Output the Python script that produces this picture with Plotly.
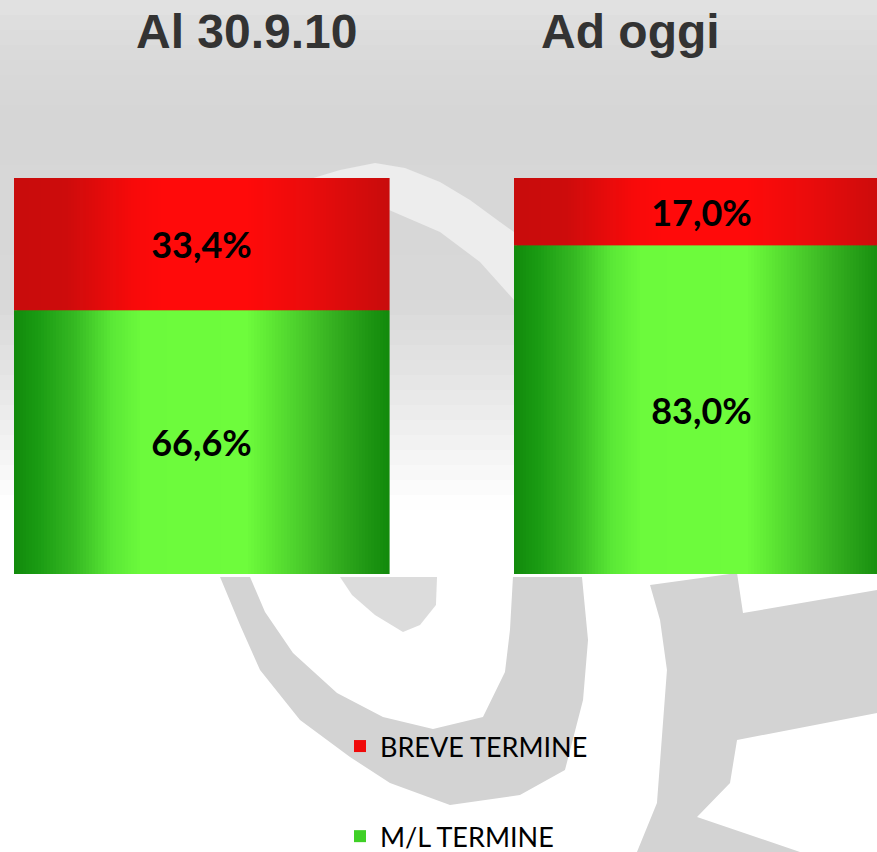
import plotly.graph_objects as go

# ---------------- data ----------------
categories = ["Al 30.9.10", "Ad oggi"]
breve_values = [33.4, 17.0]          # BREVE TERMINE share (%)
ml_values = [66.6, 83.0]             # M/L TERMINE share (%)
breve_text = ["33,4%", "17,0%"]
ml_text = ["66,6%", "83,0%"]
legend_names = ["BREVE TERMINE", "M/L TERMINE"]

# ---------------- styling helpers ----------------
W, H = 877, 852
BAR_W = 0.75
N_STRIPS = 125

green_stops = [(0.00, "#128a0c"), (0.06, "#199a12"), (0.16, "#35b822"), (0.26, "#5ae836"),
               (0.34, "#6cfa3c"), (0.62, "#6efc3c"), (0.72, "#55dc30"), (0.85, "#36b020"),
               (0.95, "#1c9412"), (1.00, "#128a0c")]
red_stops = [(0.00, "#c80c0c"), (0.14, "#cd0c0c"), (0.32, "#f80a0a"), (0.40, "#ff0a0a"),
             (0.62, "#ff0a0a"), (0.80, "#e80c0c"), (1.00, "#c80c0c")]


def h2r(h):
    h = h.lstrip("#")
    return tuple(int(h[i:i + 2], 16) for i in (0, 2, 4))


def interp(stops, t):
    for (t0, c0), (t1, c1) in zip(stops[:-1], stops[1:]):
        if t0 <= t <= t1:
            f = 0 if t1 == t0 else (t - t0) / (t1 - t0)
            a, b = h2r(c0), h2r(c1)
            return "rgb(%d,%d,%d)" % tuple(round(a[k] + (b[k] - a[k]) * f) for k in range(3))
    return stops[-1][1]


def px_path(points):
    return "M " + " L ".join("%.4f,%.4f" % (x / W, 1 - y / H) for x, y in points) + " Z"


fig = go.Figure()

# legend-carrying base bars (covered by the gradient strips)
fig.add_bar(x=categories, y=breve_values, base=ml_values, name=legend_names[0],
            marker=dict(color="#f00a0a", line=dict(width=0)), width=BAR_W,
            legendgroup="breve", hoverinfo="skip")
fig.add_bar(x=categories, y=ml_values, base=0, name=legend_names[1],
            marker=dict(color="#3fd026", line=dict(width=0)), width=BAR_W,
            legendgroup="ml", hoverinfo="skip")

# gradient strips
step = BAR_W / N_STRIPS
for i in range(N_STRIPS):
    t = (i + 0.5) / N_STRIPS
    off = -BAR_W / 2 + i * step
    w = step * (2.2 if i < N_STRIPS - 1 else 1.0)
    fig.add_bar(x=categories, y=ml_values, base=0, offset=off, width=w,
                marker=dict(color=interp(green_stops, t), line=dict(width=0)),
                showlegend=False, hoverinfo="skip")
    fig.add_bar(x=categories, y=breve_values, base=ml_values, offset=off, width=w,
                marker=dict(color=interp(red_stops, t), line=dict(width=0)),
                showlegend=False, hoverinfo="skip")

# value labels
label_font = dict(family="Lato, Open Sans, sans-serif", size=36, color="black", weight="bold")
fig.add_bar(x=categories, y=ml_values, base=0, width=BAR_W, text=ml_text,
            textposition="inside", insidetextanchor="middle", textangle=0,
            textfont=label_font, marker=dict(color="rgba(0,0,0,0)", line=dict(width=0)),
            showlegend=False, hovertemplate="%{x}<br>M/L TERMINE: %{text}<extra></extra>")
fig.add_bar(x=categories, y=breve_values, base=ml_values, width=BAR_W, text=breve_text,
            textposition="inside", insidetextanchor="middle", textangle=0,
            textfont=label_font, marker=dict(color="rgba(0,0,0,0)", line=dict(width=0)),
            showlegend=False, hovertemplate="%{x}<br>BREVE TERMINE: %{text}<extra></extra>")

# ---------------- background decoration ----------------
shapes = []
bg_stops = [(0.0, "#e2e2e2"), (0.08, "#dadada"), (0.2, "#d6d6d6"), (0.5, "#d8d8d8"),
            (0.62, "#e4e4e4"), (0.75, "#f4f4f4"), (0.85, "#ffffff"), (1.0, "#ffffff")]
NB = 40
top_px = 600
for j in range(NB):
    y0 = j * top_px / NB
    y1 = (j + 1) * top_px / NB + 1
    shapes.append(dict(type="rect", xref="paper", yref="paper", x0=0, x1=1,
                       y0=1 - y1 / H, y1=1 - y0 / H, layer="below",
                       fillcolor=interp(bg_stops, (j + 0.5) / NB), line=dict(width=0)))

wm = "#d3d3d3"
c_shape = [(220, 577), (240, 625), (260, 670), (300, 720), (350, 757), (390, 783), (450, 805),
           (520, 795), (565, 770), (583, 700), (588, 640), (582, 577),
           (513, 577), (510, 630), (505, 672), (483, 717), (433, 729), (383, 717), (337, 693),
           (293, 653), (265, 612), (250, 577)]
crescent = [(340, 577), (437, 577), (436, 605), (420, 625), (403, 632), (375, 615), (352, 595)]
e_shape = [(650, 585), (737, 573), (743, 613), (877, 590), (877, 713), (737, 740), (730, 783),
           (697, 817), (800, 852), (637, 852), (657, 803), (667, 670), (660, 620)]
top_bump = [(300, 182), (340, 170), (375, 163), (405, 168), (440, 182), (470, 200),
            (500, 222), (514, 232), (514, 300), (480, 262), (440, 232), (389, 210), (300, 190)]
for pts, col in ((top_bump, "#ededed"), (c_shape, wm), (crescent, "#dcdcdc"), (e_shape, wm)):
    shapes.append(dict(type="path", xref="paper", yref="paper", path=px_path(pts),
                       fillcolor=col, line=dict(width=0), layer="below"))

# ---------------- titles ----------------
title_font = dict(family="Liberation Sans, Arial, sans-serif", size=48, color="#333333", weight="bold")
annotations = [
    dict(text=categories[0], x=246 / W, y=1 - 31 / H, xref="paper", yref="paper",
         xanchor="center", yanchor="middle", showarrow=False, font=title_font),
    dict(text=categories[1], x=630 / W, y=1 - 31 / H, xref="paper", yref="paper",
         xanchor="center", yanchor="middle", showarrow=False, font=title_font),
]

x_min = -201.5 / 500
x_max = x_min + W / 500
px_per_unit = 396 / 100
y_max = 100 + 178 / px_per_unit
y_min = -(H - 574) / px_per_unit

fig.update_layout(
    width=W, height=H,
    margin=dict(l=0, r=0, t=0, b=0, autoexpand=False),
    barmode="overlay",
    paper_bgcolor="white", plot_bgcolor="rgba(0,0,0,0)",
    xaxis=dict(type="category", range=[x_min, x_max], visible=False, fixedrange=True),
    yaxis=dict(range=[y_min, y_max], visible=False, fixedrange=True),
    shapes=shapes,
    annotations=annotations,
    showlegend=True,
    legend=dict(x=340 / W, y=1 - 722 / H, xanchor="left", yanchor="top",
                traceorder="grouped", tracegroupgap=52, bgcolor="rgba(0,0,0,0)",
                font=dict(family="Lato, Open Sans, sans-serif", size=27, color="black")),
)

fig.write_html("out.html", config={"displayModeBar": False},
               post_script="document.body.style.margin='0px';document.body.style.overflow='hidden';")
